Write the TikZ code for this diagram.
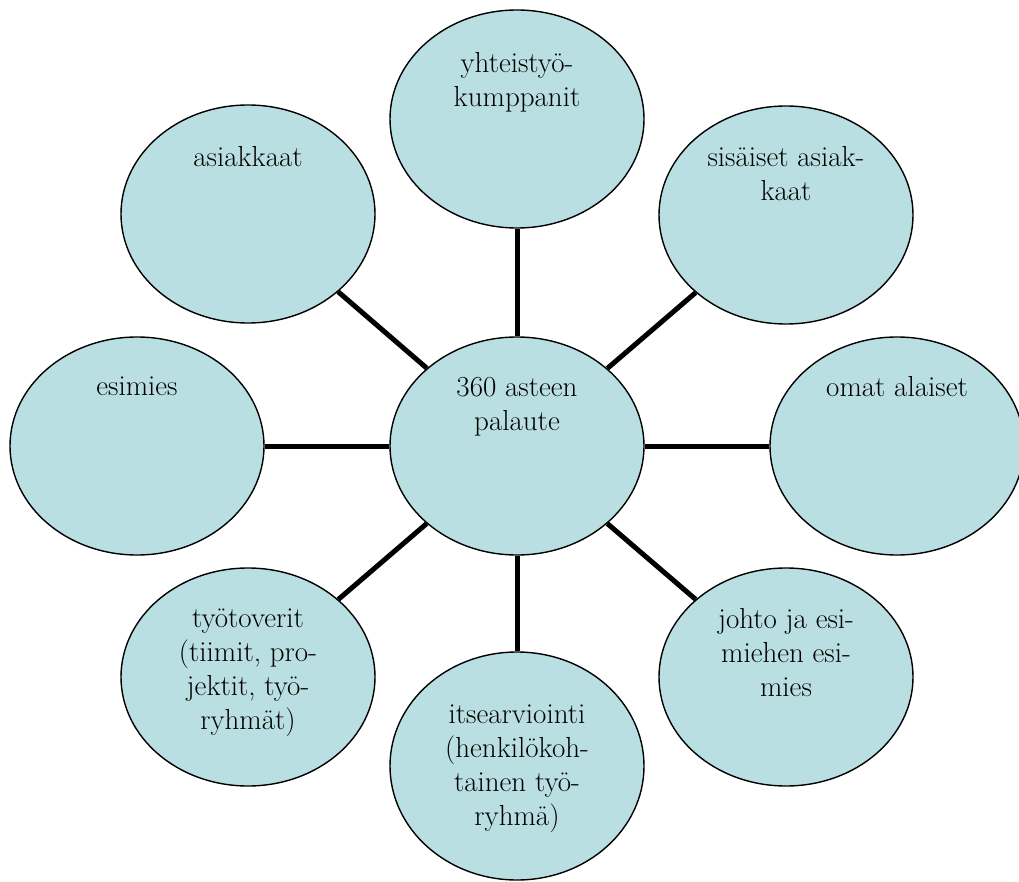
\documentclass[tikz,border=0pt]{standalone}
\usepackage{fontspec}
\usetikzlibrary{shapes,positioning}
\definecolor{pallo}{RGB}{185,223,227}

\begin{document}
\begin{tikzpicture}[x=1pt,y=-1pt,
    pallo/.style={ellipse,draw,line width=1.4pt,fill=pallo,minimum width=254pt,minimum height=218pt,inner sep=0pt},
    teksti/.style={align=center,inner sep=0pt,font=\fontsize{29}{34}\selectfont},
    puola/.style={line width=5pt}]
  \useasboundingbox (0,0) rectangle (1019,882);
  % pallot
  \node[pallo] (keski) at (517,446) {};
  \node[pallo] (yht) at (517,119) {};
  \node[pallo] (sis) at (786,215) {};
  \node[pallo] (omat) at (897,446) {};
  \node[pallo] (johto) at (786,677) {};
  \node[pallo,minimum height=228pt] (itse) at (517,766) {};
  \node[pallo] (tyot) at (248,677) {};
  \node[pallo] (esim) at (137,446) {};
  \node[pallo] (asiak) at (248,214) {};
  % puolat
  \foreach \n in {yht,sis,omat,johto,itse,tyot,esim,asiak}
    \draw[puola] (keski) -- (\n);
  % tekstit
  \node[teksti,below=41pt of keski.north] (keski-t) {360 asteen\\palaute};
  \node[teksti,below=43pt of yht.north] (yht-t) {yhteistyö-\\kumppanit};
  \node[teksti,below=41pt of sis.north] (sis-t) {sisäiset asiak-\\kaat};
  \node[teksti,below=40pt of omat.north] (omat-t) {omat alaiset};
  \node[teksti,below=41pt of johto.north] (johto-t) {johto ja esi-\\miehen esi-\\mies};
  \node[teksti,below=53pt of itse.north] (itse-t) {itsearviointi\\(henkilökoh-\\tainen työ-\\ryhmä)};
  \node[teksti,below=41pt of tyot.north] (tyot-t) {työtoverit\\(tiimit, pro-\\jektit, työ-\\ryhmät)};
  \node[teksti,below=40pt of esim.north] (esim-t) {esimies};
  \node[teksti,below=42pt of asiak.north] (asiak-t) {asiakkaat};
\end{tikzpicture}
\end{document}
